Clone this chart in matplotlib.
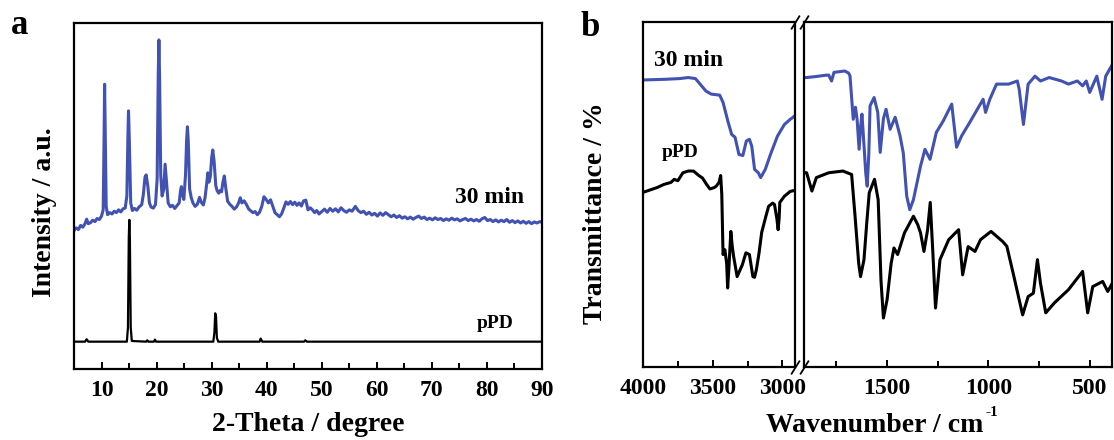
import matplotlib
matplotlib.use("Agg")
import matplotlib.pyplot as plt
from matplotlib.ticker import MultipleLocator

plt.rcParams['font.family'] = ['Liberation Serif', 'DejaVu Serif']
plt.rcParams['font.weight'] = 'bold'

# ---------------- data: XRD (panel a) ----------------
xrd30_theta = [5.0, 5.4, 5.8, 6.2, 6.6, 7.0, 7.3, 7.6, 8.0, 8.4, 8.8, 9.2, 9.6, 10.0, 10.3, 10.45, 10.56, 10.7,
               10.85, 11.1, 11.5, 11.9, 12.3, 12.7, 13.1, 13.5, 13.9, 14.3, 14.6, 14.8, 14.9, 15.05, 15.3, 15.6,
               16.0, 16.4, 16.8, 17.3, 17.6, 17.9, 18.1, 18.4, 18.7, 19.0, 19.4, 19.8, 20.1, 20.3, 20.42, 20.55,
               20.75, 21.0, 21.3, 21.55, 21.8, 22.1, 22.5, 22.9, 23.3, 23.7, 24.1, 24.35, 24.5, 24.7, 24.95, 25.25,
               25.45, 25.6, 25.75, 26.0, 26.3, 26.6, 27.0, 27.4, 27.8, 28.1, 28.5, 28.8, 29.1, 29.3, 29.5, 29.75,
               30.0, 30.2, 30.45, 30.75, 31.0, 31.3, 31.55, 31.8, 32.05, 32.3, 32.55, 32.9, 33.3, 33.7, 34.1, 34.5,
               34.9, 35.2, 35.5, 35.9, 36.3, 36.7, 37.1, 37.5, 37.9, 38.3, 38.7, 39.1, 39.5, 39.9, 40.3, 40.7, 41.1,
               41.5, 41.9, 42.3, 42.7, 43.1, 43.5, 43.9, 44.3, 44.7, 45.1, 45.5, 45.9, 46.3, 46.7, 47.1, 47.5, 47.9,
               48.3, 48.7, 49.1, 49.5, 50.0, 50.5, 51.0, 51.5, 52.0, 52.5, 53.0, 53.5, 54.0, 54.5, 55.0, 55.5, 56.1,
               56.6, 57.1, 57.6, 58.1, 58.6, 59.1, 59.6, 60.1, 60.6, 61.1, 61.6, 62.1, 62.6, 63.1, 63.6, 64.1, 64.6,
               65.1, 65.6, 66.1, 66.6, 67.1, 67.6, 68.1, 68.6, 69.1, 69.6, 70.1, 70.6, 71.1, 71.6, 72.1, 72.6, 73.1,
               73.6, 74.1, 74.6, 75.1, 75.6, 76.1, 76.6, 77.1, 77.6, 78.1, 78.6, 79.1, 79.6, 80.1, 80.6, 81.1, 81.6,
               82.1, 82.6, 83.1, 83.6, 84.1, 84.6, 85.1, 85.6, 86.1, 86.6, 87.1, 87.6, 88.1, 88.6, 89.1, 89.6, 90.0]
xrd30_int = [40.0, 40.8, 40.3, 41.5, 41.0, 42.0, 43.3, 42.0, 42.3, 43.0, 42.6, 43.5, 43.2, 44.2, 46.0, 65.0, 82.3, 64.0,
             47.0, 44.6, 45.2, 44.8, 45.6, 45.2, 46.0, 45.4, 46.3, 46.5, 50.0, 68.0, 74.6, 66.0, 48.0, 45.8,
             46.4, 45.9, 46.8, 47.5, 50.5, 55.5, 56.1, 53.0, 48.0, 46.8, 46.5, 47.5, 55.0, 85.0, 95.1, 84.0,
             56.0, 50.0, 52.0, 59.2, 54.0, 48.0, 46.9, 47.3, 46.4, 47.2, 48.0, 51.5, 52.7, 50.5, 49.0, 56.0,
             66.0, 70.0, 66.0, 52.0, 49.5, 48.0, 47.0, 47.6, 49.6, 48.2, 47.4, 49.5, 53.5, 56.7, 54.0, 55.5,
             61.0, 63.3, 60.0, 53.0, 51.5, 50.8, 51.6, 51.2, 54.0, 55.8, 52.5, 48.5, 47.6, 47.0, 46.2, 46.8,
             48.0, 49.5, 48.0, 48.6, 47.6, 46.3, 45.7, 45.2, 45.5, 44.6, 45.3, 47.0, 49.8, 49.0, 48.0, 48.9, 47.0,
             45.2, 44.6, 44.0, 44.8, 46.5, 48.3, 47.6, 48.4, 47.5, 48.2, 47.3, 48.0, 47.1, 48.6, 48.8, 46.0, 46.6,
             46.0, 45.2, 45.8, 44.8, 45.5, 46.2, 45.3, 46.4, 45.6, 46.3, 45.4, 46.6, 45.8, 45.3, 46.0, 45.6, 47.0,
             45.8, 45.2, 45.6, 44.7, 45.3, 44.5, 45.0, 44.2, 45.1, 44.4, 45.2, 44.6, 44.0, 44.5, 43.8, 44.3, 43.6,
             44.0, 43.4, 43.9, 43.3, 43.8, 44.2, 43.5, 43.9, 43.2, 43.6, 43.1, 43.7, 43.2, 43.5, 42.9, 43.4, 43.0,
             43.6, 43.1, 43.4, 42.8, 43.2, 43.5, 42.9, 43.3, 42.8, 43.2, 42.7, 43.4, 43.8, 42.9, 43.2, 42.6, 43.1,
             42.5, 43.0, 42.6, 43.2, 42.4, 42.9, 42.3, 42.8, 42.2, 42.7, 42.1, 42.6, 42.0, 42.5, 42.2, 42.6, 42.4]

ppd_theta = [5.0, 7.0, 7.3, 7.6, 14.6, 14.8, 14.95, 15.05, 15.15, 15.3, 15.5, 18.1, 18.3, 18.5, 19.5, 19.7, 19.9,
             30.3, 30.5, 30.65, 30.8, 30.95, 31.2, 38.7, 38.9, 39.2, 46.8, 47.0, 47.3, 90.0]
ppd_int = [7.9, 7.9, 8.6, 7.9, 7.9, 12.0, 38.0, 43.1, 38.0, 12.0, 8.1, 7.9, 8.3, 7.9, 7.9, 8.5, 7.9,
           7.9, 10.5, 16.1, 15.0, 9.0, 7.9, 7.9, 8.8, 7.9, 7.9, 8.3, 7.9, 7.9]

# ---------------- data: FTIR (panel b) ----------------
ir30_left_wn = [4000, 3994, 3837, 3737, 3676, 3624, 3601, 3549, 3511, 3450, 3426, 3389, 3364, 3340, 3312, 3284,
                3259, 3237, 3220, 3200, 3173, 3156, 3123, 3086, 3036, 2986, 2944, 2910]
ir30_left_T = [83.2, 83.2, 83.4, 83.6, 83.9, 83.6, 82.5, 80.0, 79.1, 78.8, 76.7, 70.9, 67.4, 66.6, 61.6, 61.3,
               65.5, 66.0, 64.0, 57.3, 56.3, 54.9, 57.3, 61.6, 66.9, 70.3, 71.8, 72.8]

ppd_left_wn = [4000, 3994, 3900, 3851, 3800, 3776, 3750, 3714, 3676, 3638, 3600, 3574, 3545, 3520, 3490, 3475,
               3455, 3443, 3435, 3426, 3413, 3400, 3393, 3385, 3370, 3360, 3350, 3325, 3300, 3287, 3262, 3237,
               3212, 3200, 3187, 3168, 3149, 3120, 3099, 3070, 3057, 3040, 3031, 3024, 3019, 2986, 2944, 2910]
ppd_left_T = [50.7, 50.7, 52.0, 52.9, 53.5, 54.4, 54.0, 56.3, 56.8, 56.8, 55.5, 54.8, 53.0, 51.6, 52.0, 52.4,
              53.5, 55.5, 50.0, 32.6, 34.0, 30.0, 22.9, 28.0, 39.3, 35.0, 32.0, 26.2, 28.5, 29.7, 33.1, 32.6,
              26.2, 26.0, 28.2, 33.0, 39.0, 43.5, 46.6, 47.5, 47.1, 43.0, 39.8, 43.0, 47.7, 49.5, 50.9, 51.2]

ir30_right_wn = [1910, 1897, 1850, 1800, 1788, 1774, 1762, 1735, 1709, 1690, 1683, 1667, 1656, 1648, 1638, 1630,
                 1624, 1618, 1605, 1598, 1590, 1584, 1564, 1546, 1534, 1518, 1505, 1485, 1460, 1436, 1420, 1403,
                 1388, 1370, 1335, 1313, 1288, 1257, 1223, 1181, 1157, 1132, 1092, 1026, 1014, 993, 960, 900,
                 857, 848, 827, 804, 770, 743, 700, 639, 605, 561, 535, 517, 500, 465, 439, 421, 392]
ir30_right_T = [83.9, 83.9, 84.2, 84.6, 84.6, 82.9, 85.4, 85.6, 85.8, 85.2, 84.4, 71.8, 75.3, 71.8, 63.1, 70.0,
                73.3, 68.0, 56.0, 52.4, 62.0, 75.7, 78.1, 73.8, 62.2, 72.0, 74.7, 68.9, 72.4, 67.0, 62.0, 49.5,
                45.6, 48.5, 58.2, 63.1, 60.2, 68.0, 71.3, 76.2, 63.7, 67.0, 70.9, 77.6, 73.8, 77.6, 82.0, 82.0,
                82.9, 80.5, 70.3, 82.0, 84.3, 82.9, 83.9, 82.9, 82.0, 82.9, 81.5, 82.9, 79.6, 84.3, 77.6, 84.3, 87.3]

ppd_right_wn = [1910, 1897, 1871, 1849, 1788, 1718, 1675, 1658, 1640, 1631, 1614, 1600, 1588, 1562, 1544, 1530,
                1518, 1500, 1480, 1466, 1448, 1414, 1370, 1349, 1335, 1318, 1300, 1287, 1274, 1261, 1239, 1196,
                1147, 1127, 1100, 1066, 1039, 987, 930, 909, 874, 831, 804, 778, 758, 743, 717, 674, 605, 535,
                510, 485, 436, 411, 392]
ppd_right_T = [56.3, 56.3, 51.0, 54.9, 56.3, 56.8, 55.8, 43.7, 30.0, 26.2, 31.1, 42.0, 50.5, 54.4, 48.5, 25.0,
               14.2, 19.5, 30.0, 34.5, 32.6, 38.9, 43.7, 41.3, 38.9, 33.5, 39.8, 47.7, 33.1, 17.1, 31.1, 36.9,
               39.8, 26.7, 34.9, 33.5, 36.9, 39.3, 36.4, 35.0, 26.2, 15.1, 20.4, 21.4, 31.1, 24.3, 15.7, 18.6, 22.4,
               27.7, 15.7, 23.3, 24.8, 21.9, 23.9]

xrd_ticks = [10, 20, 30, 40, 50, 60, 70, 80, 90]
ir_left_ticks = [4000, 3500, 3000]
ir_right_ticks = [1500, 1000, 500]

BLUE = '#4152b2'
BLACK = '#000000'

W, H = 1114, 440
fig = plt.figure(figsize=(W / 100, H / 100), dpi=100)


def rect(l, t, r, b):
    return [l / W, 1 - b / H, (r - l) / W, (b - t) / H]


def style(ax):
    for s in ax.spines.values():
        s.set_linewidth(1.6)
    ax.tick_params(axis='x', which='both', direction='in', top=False, labelsize=17, pad=8, width=1.4)
    ax.tick_params(axis='x', which='major', length=5)
    ax.tick_params(axis='x', which='minor', length=4)
    ax.tick_params(axis='y', which='both', left=False, right=False, labelleft=False)
    for lab in ax.get_xticklabels():
        lab.set_fontweight('bold')


# ---------------- panel a ----------------
axa = fig.add_axes(rect(74, 23, 542, 369))
axa.plot(xrd30_theta, xrd30_int, color=BLUE, lw=2.2)
axa.plot(ppd_theta, ppd_int, color=BLACK, lw=1.6)
axa.set_xlim(5, 90)
axa.set_ylim(0, 100)
axa.set_xticks(xrd_ticks)
axa.xaxis.set_minor_locator(MultipleLocator(5))
style(axa)
axa.text(80.4, 48, '30 min', fontsize=17, fontweight='bold', ha='center', va='baseline')
axa.text(81.5, 11.8, 'pPD', fontsize=14, fontweight='bold', ha='center', va='baseline')
fig.text(308 / W, 1 - 424 / H, '2-Theta / degree', fontsize=20, fontweight='bold', ha='center', va='center')
fig.text(45 / W, 1 - 212 / H, 'Intensity / a.u.', fontsize=20, fontweight='bold', ha='center', va='center',
         rotation=90)
fig.text(20 / W, 1 - 34 / H, 'a', fontsize=25, fontweight='bold', ha='center', va='baseline')

# ---------------- panel b ----------------
axl = fig.add_axes(rect(643, 22, 795, 367))
axr = fig.add_axes(rect(804, 22, 1112, 367))
axl.plot(ir30_left_wn, ir30_left_T, color=BLUE, lw=2.2)
axl.plot(ppd_left_wn, ppd_left_T, color=BLACK, lw=2.2)
axr.plot(ir30_right_wn, ir30_right_T, color=BLUE, lw=2.2)
axr.plot(ppd_right_wn, ppd_right_T, color=BLACK, lw=2.2)
axl.set_xlim(4000, 2910)
axr.set_xlim(1910, 390)
for ax in (axl, axr):
    ax.set_ylim(0, 100)
    ax.xaxis.set_minor_locator(MultipleLocator(250))
axl.set_xticks(ir_left_ticks)
axr.set_xticks(ir_right_ticks)
style(axl)
style(axr)

# break marks
slash = dict(marker=[(-1, -1.6), (1, 1.6)], markersize=10, linestyle='none', color='k', mec='k', mew=1.3,
             clip_on=False)
axl.plot([1, 1], [0, 1], transform=axl.transAxes, **slash)
axr.plot([0, 0], [0, 1], transform=axr.transAxes, **slash)

axl.text(3671, 87.2, '30 min', fontsize=17, fontweight='bold', ha='center', va='baseline')
axl.text(3736, 61, 'pPD', fontsize=14, fontweight='bold', ha='center', va='baseline')
fig.text(983 / W, 1 - 432 / H, 'Wavenumber / cm', fontsize=20, fontweight='bold', ha='right', va='baseline')
fig.text(985 / W, 1 - 416 / H, '-1', fontsize=11, fontweight='bold', ha='left', va='baseline')
fig.text(596 / W, 1 - 213 / H, 'Transmittance / %', fontsize=20, fontweight='bold', ha='center', va='center',
         rotation=90)
fig.text(590 / W, 1 - 36 / H, 'b', fontsize=25, fontweight='bold', ha='center', va='baseline')

fig.savefig('out.png', dpi=100)
